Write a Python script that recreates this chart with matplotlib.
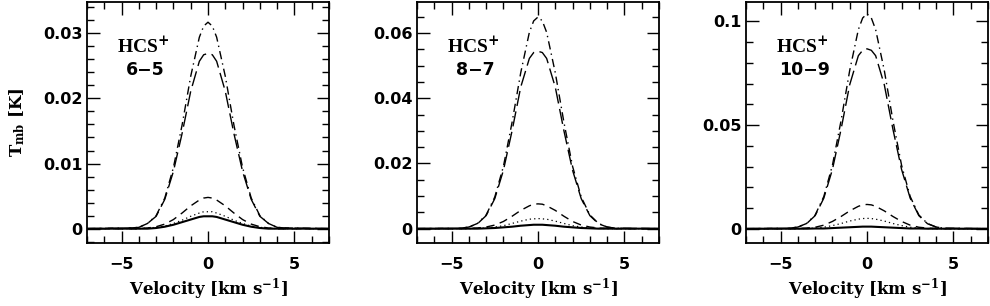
import numpy as np
import matplotlib
matplotlib.use("Agg")
from matplotlib import pyplot as plt
from matplotlib.ticker import MultipleLocator, FuncFormatter

# velocity grid [km/s]
vel = [-7, -4.5, -4, -3.5, -3, -2.5, -2, -1.5, -1, -0.5, -0.25, 0,
       0.25, 0.5, 1, 1.5, 2, 2.5, 3, 3.5, 4, 4.5, 7]

transitions = ["6\u22125", "8\u22127", "10\u22129"]

# HCS+ 6-5
t65_dashdot = [0, 0.0001, 0.0002, 0.0008, 0.0020, 0.0047, 0.0094, 0.0159, 0.0234, 0.0294, 0.0311, 0.0317,
               0.0311, 0.0294, 0.0234, 0.0159, 0.0094, 0.0047, 0.0020, 0.0008, 0.0002, 0.0001, 0]
t65_longdash = [0, 0.0001, 0.0002, 0.0008, 0.0019, 0.0045, 0.0088, 0.0146, 0.0211, 0.0257, 0.0267, 0.0269,
                0.0267, 0.0257, 0.0211, 0.0146, 0.0088, 0.0045, 0.0019, 0.0008, 0.0002, 0.0001, 0]
t65_dashed = [0, 0, 0, 0.0001, 0.0003, 0.0007, 0.0014, 0.0024, 0.0035, 0.0044, 0.0047, 0.0048,
              0.0047, 0.0044, 0.0035, 0.0024, 0.0014, 0.0007, 0.0003, 0.0001, 0, 0, 0]
t65_dotted = [0, 0, 0, 0.0001, 0.0002, 0.0004, 0.0008, 0.0013, 0.0019, 0.0024, 0.0026, 0.0026,
              0.0026, 0.0024, 0.0019, 0.0013, 0.0008, 0.0004, 0.0002, 0.0001, 0, 0, 0]
t65_solid = [0, 0, 0, 0, 0.0001, 0.0003, 0.0006, 0.0010, 0.0014, 0.0018, 0.0019, 0.0019,
             0.0019, 0.0018, 0.0014, 0.0010, 0.0006, 0.0003, 0.0001, 0, 0, 0, 0]

# HCS+ 8-7
t87_dashdot = [0, 0.0001, 0.0005, 0.0016, 0.0042, 0.0097, 0.0191, 0.0326, 0.0478, 0.0602, 0.0637, 0.0649,
               0.0637, 0.0602, 0.0478, 0.0326, 0.0191, 0.0097, 0.0042, 0.0016, 0.0005, 0.0001, 0]
t87_longdash = [0, 0.0001, 0.0005, 0.0015, 0.0040, 0.0092, 0.0179, 0.0300, 0.0434, 0.0522, 0.0540, 0.0544,
                0.0540, 0.0522, 0.0434, 0.0300, 0.0179, 0.0092, 0.0040, 0.0015, 0.0005, 0.0001, 0]
t87_dashed = [0, 0, 0.0001, 0.0002, 0.0005, 0.0011, 0.0022, 0.0038, 0.0056, 0.0070, 0.0075, 0.0076,
              0.0075, 0.0070, 0.0056, 0.0038, 0.0022, 0.0011, 0.0005, 0.0002, 0.0001, 0, 0]
t87_dotted = [0, 0, 0, 0.0001, 0.0002, 0.0005, 0.0009, 0.0016, 0.0023, 0.0029, 0.0030, 0.0031,
              0.0030, 0.0029, 0.0023, 0.0016, 0.0009, 0.0005, 0.0002, 0.0001, 0, 0, 0]
t87_solid = [0, 0, 0, 0, 0.0001, 0.0002, 0.0004, 0.0006, 0.0009, 0.0011, 0.0012, 0.0012,
             0.0012, 0.0011, 0.0009, 0.0006, 0.0004, 0.0002, 0.0001, 0, 0, 0, 0]

# HCS+ 10-9
t109_dashdot = [0, 0.0002, 0.0008, 0.0025, 0.0066, 0.0155, 0.0306, 0.0522, 0.0764, 0.0961, 0.1017, 0.1037,
                0.1017, 0.0961, 0.0764, 0.0522, 0.0306, 0.0155, 0.0066, 0.0025, 0.0008, 0.0002, 0]
t109_longdash = [0, 0.0002, 0.0008, 0.0024, 0.0063, 0.0147, 0.0286, 0.0480, 0.0695, 0.0835, 0.0861, 0.0868,
                 0.0861, 0.0835, 0.0695, 0.0480, 0.0286, 0.0147, 0.0063, 0.0024, 0.0008, 0.0002, 0]
t109_dashed = [0, 0, 0.0001, 0.0003, 0.0007, 0.0017, 0.0035, 0.0059, 0.0086, 0.0108, 0.0115, 0.0117,
               0.0115, 0.0108, 0.0086, 0.0059, 0.0035, 0.0017, 0.0007, 0.0003, 0.0001, 0, 0]
t109_dotted = [0, 0, 0, 0.0001, 0.0003, 0.0007, 0.0015, 0.0025, 0.0037, 0.0046, 0.0049, 0.0050,
               0.0049, 0.0046, 0.0037, 0.0025, 0.0015, 0.0007, 0.0003, 0.0001, 0, 0, 0]
t109_solid = [0, 0, 0, 0, 0.0001, 0.0001, 0.0003, 0.0005, 0.0007, 0.0009, 0.0010, 0.0010,
              0.0010, 0.0009, 0.0007, 0.0005, 0.0003, 0.0001, 0.0001, 0, 0, 0, 0]

ylims = [(-0.0022, 0.0348), (-0.0044, 0.0695), (-0.0069, 0.1094)]
ymajor = [0.01, 0.02, 0.05]
yminor = [0.002, 0.005, 0.01]

panels = [
    [t65_solid, t65_dotted, t65_dashed, t65_longdash, t65_dashdot],
    [t87_solid, t87_dotted, t87_dashed, t87_longdash, t87_dashdot],
    [t109_solid, t109_dotted, t109_dashed, t109_longdash, t109_dashdot],
]

styles = [
    dict(linestyle="-", linewidth=1.5),
    dict(linestyle=(0, (1, 2.5)), linewidth=0.9),
    dict(linestyle=(0, (6, 4)), linewidth=1.0),
    dict(linestyle=(0, (11, 4)), linewidth=1.0),
    dict(linestyle=(0, (6, 3, 1, 3)), linewidth=1.0),
]

plt.rcParams["font.family"] = "DejaVu Sans"
plt.rcParams["mathtext.fontset"] = "dejavuserif"

fig = plt.figure(figsize=(9.9, 3.06), dpi=100)
lefts = [87 / 990, 417 / 990, 746 / 990]

for i in range(3):
    ax = fig.add_axes([lefts[i], 63 / 306, 242 / 990, 241 / 306])
    for y, st in zip(panels[i], styles):
        ax.plot(vel, y, color="black", **st)
    ax.set_xlim(-7, 7)
    ax.set_ylim(*ylims[i])
    ax.xaxis.set_major_locator(MultipleLocator(5))
    ax.xaxis.set_minor_locator(MultipleLocator(1))
    ax.yaxis.set_major_locator(MultipleLocator(ymajor[i]))
    ax.yaxis.set_minor_locator(MultipleLocator(yminor[i]))
    ax.yaxis.set_major_formatter(FuncFormatter(lambda v, p: "0" if abs(v) < 1e-12 else "%g" % v))
    ax.xaxis.set_major_formatter(FuncFormatter(lambda v, p: "0" if v == 0 else ("\u2212%g" % -v if v < 0 else "%g" % v)))
    ax.tick_params(which="both", direction="in", top=True, right=True, width=1.0)
    ax.tick_params(which="major", length=9)
    ax.tick_params(which="minor", length=5)
    ax.tick_params(axis="x", which="major", pad=10)
    ax.tick_params(axis="y", which="major", pad=3)
    for lab in ax.get_xticklabels() + ax.get_yticklabels():
        lab.set_fontsize(11.5)
        lab.set_fontweight("bold")
    for s in ax.spines.values():
        s.set_linewidth(1.3)
    ax.set_xlabel(r"Velocity [km s$^{\mathbf{-1}}$]", family="DejaVu Serif", fontweight="bold",
                  fontsize=12, labelpad=3)
    ax.text(0.125, 0.79, "HCS$^{\\mathbf{+}}$", transform=ax.transAxes,
            family="Liberation Serif", fontweight="bold", fontsize=14, ha="left", va="baseline")
    ax.text(0.24, 0.697, transitions[i], transform=ax.transAxes,
            fontweight="bold", fontsize=12.5, ha="center", va="baseline")
    if i == 0:
        ax.set_ylabel(r"T$_{\mathbf{mb}}$ [K]", family="DejaVu Serif", fontweight="bold",
                      fontsize=12, labelpad=12)

fig.savefig("out.png", dpi=100)
